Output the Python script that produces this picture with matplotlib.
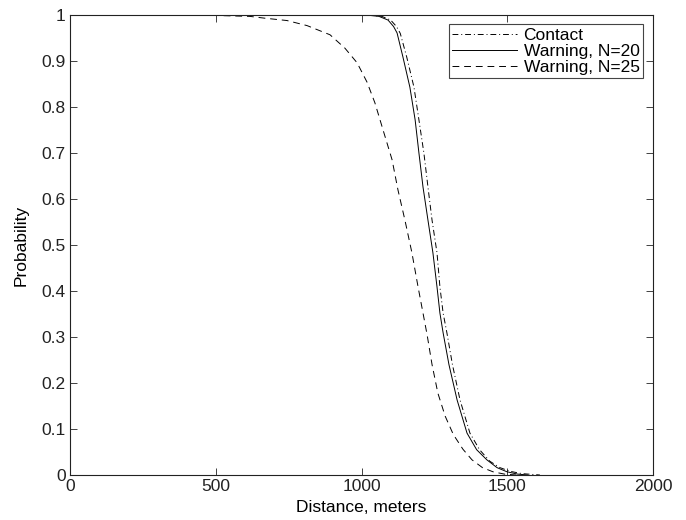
import matplotlib
matplotlib.use("Agg")
import matplotlib.pyplot as plt

# distance (m) vs probability
contact_x = [370, 700, 1000, 1040, 1070, 1100, 1120, 1133, 1155, 1180, 1197, 1214, 1228, 1242,
             1259, 1269, 1280, 1293, 1312, 1338, 1372, 1405, 1440, 1475, 1510, 1550, 1612]
contact_y = [1.0, 1.0, 1.0, 0.999, 0.997, 0.989, 0.975, 0.96, 0.909, 0.843, 0.772, 0.70, 0.626, 0.554,
             0.483, 0.409, 0.352, 0.309, 0.24, 0.163, 0.091, 0.055, 0.03, 0.016, 0.008, 0.003, 0.0]

warn20_x = [370, 700, 1000, 1030, 1060, 1091, 1110, 1122, 1142, 1166, 1184, 1197, 1211, 1228,
            1245, 1259, 1269, 1280, 1300, 1328, 1362, 1395, 1430, 1465, 1499, 1535, 1570]
warn20_y = [1.0, 1.0, 1.0, 0.999, 0.997, 0.989, 0.975, 0.961, 0.909, 0.843, 0.772, 0.70, 0.626, 0.554,
            0.483, 0.409, 0.352, 0.309, 0.24, 0.163, 0.091, 0.055, 0.033, 0.016, 0.007, 0.002, 0.0]

warn25_x = [367, 500, 617, 669, 744, 813, 892, 943, 985, 1019, 1046, 1074, 1105, 1125, 1149,
            1173, 1194, 1211, 1225, 1242, 1262, 1287, 1315, 1348, 1379, 1415, 1451, 1490, 1530]
warn25_y = [1.0, 0.999, 0.997, 0.993, 0.988, 0.977, 0.957, 0.928, 0.896, 0.854, 0.809, 0.75, 0.685,
            0.62, 0.554, 0.483, 0.409, 0.352, 0.305, 0.24, 0.178, 0.128, 0.088, 0.056, 0.033, 0.016,
            0.007, 0.002, 0.0]

x_ticks = [0, 500, 1000, 1500, 2000]
y_ticks = [0, 0.1, 0.2, 0.3, 0.4, 0.5, 0.6, 0.7, 0.8, 0.9, 1]
y_labels = ["0", "0.1", "0.2", "0.3", "0.4", "0.5", "0.6", "0.7", "0.8", "0.9", "1"]

plt.rcParams["font.family"] = ["Liberation Sans", "DejaVu Sans"]

fig = plt.figure(figsize=(6.86, 5.2), dpi=100)
ax = fig.add_axes([70 / 686, 45 / 520, 583 / 686, 460 / 520])

ax.plot(contact_x, contact_y, color="black", lw=0.7, dashes=[6, 3, 1, 3], label="Contact")
ax.plot(warn20_x, warn20_y, color="black", lw=0.7, ls="-", label="Warning, N=20")
ax.plot(warn25_x, warn25_y, color="black", lw=0.7, dashes=[7, 5], label="Warning, N=25")

ax.set_xlim(0, 2000)
ax.set_ylim(0, 1)
ax.set_xticks(x_ticks)
ax.set_yticks(y_ticks)
ax.set_yticklabels(y_labels)
ax.tick_params(direction="in", top=True, right=True, length=5, width=0.6,
               labelsize=12.5, colors="#222222", pad=3)
for s in ax.spines.values():
    s.set_linewidth(0.8)
    s.set_color("#222222")

ax.set_xlabel("Distance, meters", fontsize=12.5, labelpad=4)
ax.set_ylabel("Probability", fontsize=12.5, labelpad=9)

leg = ax.legend(loc="upper right", bbox_to_anchor=((643 - 70) / 583, (475 - 24) / 460),
                fontsize=12.5, handlelength=3.7, fancybox=False, framealpha=1,
                borderpad=0.2, labelspacing=0.05, handletextpad=0.4, borderaxespad=0)
leg.get_frame().set_edgecolor("#444444")
leg.get_frame().set_linewidth(0.8)

plt.savefig("out.png", dpi=100)
